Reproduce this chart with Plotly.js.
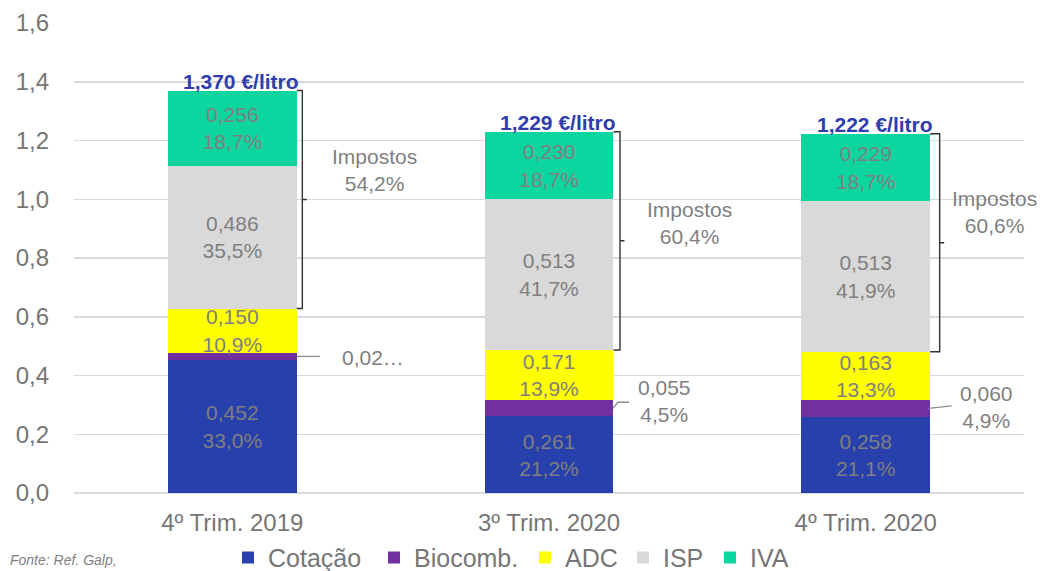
<!DOCTYPE html>
<html>
<head>
<meta charset="utf-8">
<script src="https://cdn.plot.ly/plotly-3.0.1.min.js"></script>
<style>html,body{margin:0;padding:0;background:#fff;}#chart{width:1042px;height:571px;}</style>
</head>
<body>
<div id="chart"></div>
<script>
// ---------- data ----------
const categories = ['4º Trim. 2019', '3º Trim. 2020', '4º Trim. 2020'];
const cotacao = [0.452, 0.261, 0.258];
const biocomb = [0.026, 0.055, 0.060];
const adc = [0.150, 0.171, 0.163];
const isp = [0.486, 0.513, 0.513];
const iva = [0.256, 0.230, 0.229];
const cotacaoPct = ['33,0%', '21,2%', '21,1%'];
const biocombPct = ['1,9%', '4,5%', '4,9%'];
const adcPct = ['10,9%', '13,9%', '13,3%'];
const ispPct = ['35,5%', '41,7%', '41,9%'];
const ivaPct = ['18,7%', '18,7%', '18,7%'];
const totals = [1.370, 1.229, 1.222];
const impostosPct = ['54,2%', '60,4%', '60,6%'];
const biocombTruncated = [true, false, false];
const seriesNames = ['Cotação', 'Biocomb.', 'ADC', 'ISP', 'IVA'];
const yTicks = [0, 0.2, 0.4, 0.6, 0.8, 1.0, 1.2, 1.4, 1.6];

// ---------- style ----------
const colors = ['#2840AC', '#7030A0', '#FFFF00', '#D9D9D9', '#0DD5A0'];
const FONT = 'Liberation Sans, Arial, sans-serif';
const GREY = '#7f7f7f';
const AXISGREY = '#767676';
const barHalfPx = 64.5;
const bracketPx = [70, 71, 74];
const impostosShift = [[142, 30], [140, 18], [129, 31]];
const biocombShift = [[141, -1], [115, 7], [121, 1]];
const leaderPaths = [
  'M 64.5,0 L 87.5,0',
  'M 64,0 L 69,6 L 80,6',
  'M 63,0 L 86,2.5'
];
const legendSquareCenterPx = [254, 400, 551, 649, 736];
const legendIds = ['legend', 'legend2', 'legend3', 'legend4', 'legend5'];

const fmt = v => v.toFixed(3).replace('.', ',');
const xIdx = categories.map((c, i) => i);

function barTrace(k, vals, pcts, showText) {
  return {
    type: 'bar', name: seriesNames[k], x: xIdx, y: vals,
    legend: legendIds[k],
    marker: {color: colors[k], line: {width: 0}},
    text: showText ? vals.map((v, i) => fmt(v) + '<br>' + pcts[i]) : null,
    textposition: showText ? 'inside' : 'none',
    insidetextanchor: 'middle',
    constraintext: 'none',
    textfont: {family: FONT, size: 21, color: GREY},
    hoverinfo: 'skip'
  };
}

const data = [
  barTrace(0, cotacao, cotacaoPct, true),
  barTrace(1, biocomb, biocombPct, false),
  barTrace(2, adc, adcPct, true),
  barTrace(3, isp, ispPct, true),
  barTrace(4, iva, ivaPct, true)
];

const annotations = [];
const shapes = [];

categories.forEach((c, i) => {
  annotations.push({
    x: i, y: totals[i], xref: 'x', yref: 'y', text: '<b>' + fmt(totals[i]) + ' €/litro</b>',
    showarrow: false, xanchor: 'center', yanchor: 'bottom', xshift: 9, yshift: -4,
    font: {family: FONT, size: 21, color: '#2F3DAF'}
  });
  const bottom = cotacao[i] + biocomb[i] + adc[i];
  const top = bottom + isp[i] + iva[i];
  const mid = (top + bottom) / 2;
  const bx = bracketPx[i];
  shapes.push({
    type: 'path', xref: 'x', yref: 'y', xsizemode: 'pixel', xanchor: i,
    path: `M ${barHalfPx},${top} L ${bx},${top} L ${bx},${bottom} L ${barHalfPx},${bottom} M ${bx},${mid} L ${bx + 4.5},${mid}`,
    line: {color: '#333333', width: 1.4}
  });
  annotations.push({
    x: i, y: mid, xref: 'x', yref: 'y', text: 'Impostos<br>' + impostosPct[i],
    showarrow: false, xanchor: 'center', yanchor: 'middle',
    xshift: impostosShift[i][0], yshift: impostosShift[i][1],
    font: {family: FONT, size: 21, color: GREY}
  });
  const bmid = cotacao[i] + biocomb[i] / 2;
  shapes.push({
    type: 'path', xref: 'x', yref: 'y', xsizemode: 'pixel', ysizemode: 'pixel',
    xanchor: i, yanchor: bmid, path: leaderPaths[i],
    line: {color: '#8c8c8c', width: 1.3}
  });
  const btxt = biocombTruncated[i] ? fmt(biocomb[i]).slice(0, 4) + '…' : fmt(biocomb[i]) + '<br>' + biocombPct[i];
  annotations.push({
    x: i, y: bmid, xref: 'x', yref: 'y', text: btxt,
    showarrow: false, xanchor: 'center', yanchor: 'middle',
    xshift: biocombShift[i][0], yshift: biocombShift[i][1],
    font: {family: FONT, size: 21, color: GREY}
  });
});

annotations.push({
  xref: 'paper', yref: 'paper', x: -0.07, y: -0.143, xanchor: 'left', yanchor: 'middle',
  text: '<i>Fonte: Ref. Galp,</i>', showarrow: false,
  font: {family: FONT, size: 14, color: GREY}
});

const layout = {
  width: 1042, height: 571,
  margin: {l: 74, r: 18, t: 23, b: 78, autoexpand: false},
  paper_bgcolor: '#ffffff', plot_bgcolor: '#ffffff',
  barmode: 'stack', bargap: 0.593,
  separators: ',.',
  font: {family: FONT, color: AXISGREY},
  showlegend: true,
  xaxis: {
    type: 'linear', range: [-0.5, 2.5],
    tickvals: xIdx, ticktext: categories,
    showgrid: false, zeroline: false, showline: false, ticks: '',
    tickfont: {family: FONT, size: 24, color: AXISGREY},
    ticklabelstandoff: 13, fixedrange: true
  },
  yaxis: {
    range: [0, 1.6], tickvals: yTicks, tickformat: '.1f',
    showgrid: true, gridcolor: '#d9d9d9', gridwidth: 1.5,
    zeroline: true, zerolinecolor: '#d9d9d9', zerolinewidth: 1.5,
    showline: false, ticks: '',
    tickfont: {family: FONT, size: 24, color: AXISGREY},
    ticklabelstandoff: 24, fixedrange: true
  },
  annotations: annotations,
  shapes: shapes
};

legendIds.forEach((id, k) => {
  layout[id] = {
    orientation: 'h', xref: 'container', yref: 'container',
    x: (legendSquareCenterPx[k] - 26) / 1042, y: 0.023, xanchor: 'left', yanchor: 'middle',
    font: {family: FONT, size: 25, color: AXISGREY},
    bgcolor: 'rgba(0,0,0,0)'
  };
});

Plotly.newPlot('chart', data, layout, {displayModeBar: false, staticPlot: true});
</script>
</body>
</html>
